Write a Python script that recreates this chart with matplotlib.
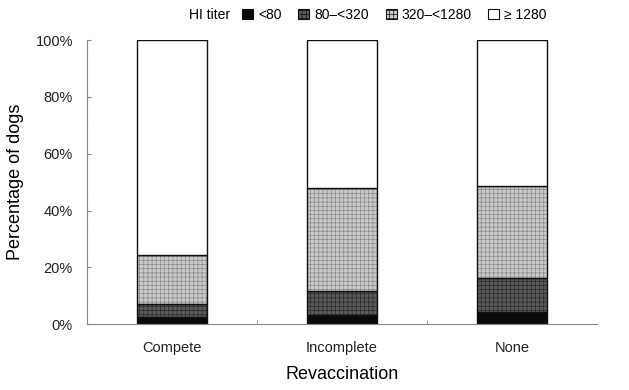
import matplotlib
matplotlib.use("Agg")
import matplotlib.pyplot as plt
from matplotlib.patches import Patch
import numpy as np

plt.rcParams['font.family'] = ['Liberation Sans', 'DejaVu Sans']
plt.rcParams['hatch.linewidth'] = 0.5

categories = ["Compete", "Incomplete", "None"]
series_names = ["<80", "80\u2013<320", "320\u2013<1280", "\u2265 1280"]
lt80 = [2.6, 3.2, 4.1]
s80_320 = [4.4, 8.5, 12.0]
s320_1280 = [17.3, 36.1, 32.6]
ge1280 = [75.7, 52.2, 51.3]
yticks = [0, 20, 40, 60, 80, 100]

series = [lt80, s80_320, s320_1280, ge1280]
faces = ["#0a0a0a", "#5a5a5a", "#cacaca", "#ffffff"]
hatches = [None, "++++", "++++", None]
hatch_cols = ["#0a0a0a", "#2a2a2a", "#8a8a8a", "#000000"]

fig = plt.figure(figsize=(6.29, 3.90), dpi=100)
ax = fig.add_axes([0.138, 0.169, 0.811, 0.728])

x = np.arange(len(categories))
width = 0.41
bottom = np.zeros(len(categories))
for vals, fc, h, hc in zip(series, faces, hatches, hatch_cols):
    ax.bar(x, vals, width, bottom=bottom, color=fc, hatch=h, edgecolor=hc, linewidth=0)
    ax.bar(x, vals, width, bottom=bottom, fill=False, edgecolor="#111111", linewidth=1.0)
    bottom += np.array(vals)

ax.set_xlim(-0.5, 2.5)
ax.set_ylim(0, 100)
ax.set_yticks(yticks)
ax.set_yticklabels([f"{v}%" for v in yticks], fontsize=10.5, color="#222222")
ax.set_xticks(x)
ax.set_xticklabels(categories, fontsize=10.5, color="#222222")
ax.tick_params(axis='x', length=0, pad=12)
ax.set_xticks([0.5, 1.5], minor=True)
ax.tick_params(axis='x', which='minor', direction='in', length=3, color="#888888")
ax.tick_params(axis='y', direction='in', length=3, color="#888888", pad=10)
for s in ["top", "right"]:
    ax.spines[s].set_visible(False)
for s in ["left", "bottom"]:
    ax.spines[s].set_color("#888888")
    ax.spines[s].set_linewidth(0.8)
    ax.spines[s].set_linestyle((0, (2, 0.6)))

ax.set_ylabel("Percentage of dogs", fontsize=13, labelpad=8)
ax.set_xlabel("Revaccination", fontsize=13, labelpad=8)

fig.text(0.300, 0.962, "HI titer", fontsize=10, ha="left", va="center")
handles = [Patch(facecolor=fc, hatch=h, edgecolor="#111111", linewidth=0.8)
           for fc, h in zip(faces, hatches)]
fig.legend(handles, series_names, ncol=4, loc="center left",
           bbox_to_anchor=(0.385, 0.962), frameon=False, fontsize=10,
           handlelength=0.8, handleheight=0.8, handletextpad=0.35,
           columnspacing=1.2, borderpad=0, borderaxespad=0)

fig.savefig("out.png", dpi=100)
